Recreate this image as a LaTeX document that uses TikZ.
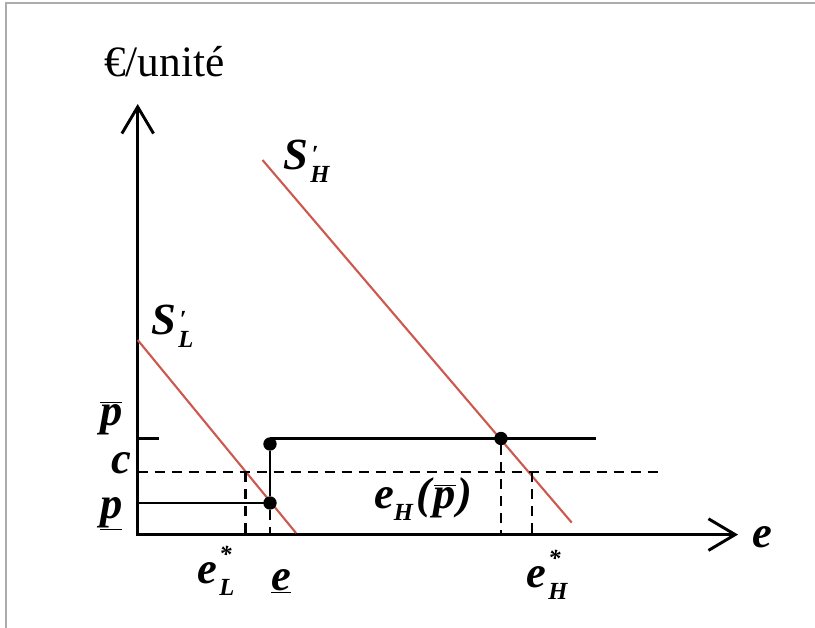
\documentclass[tikz,border=0pt]{standalone}
\usepackage{fontspec}
\setmainfont{Liberation Serif}
\usetikzlibrary{arrows.meta}

\definecolor{curvered}{RGB}{205,88,78}
\newcommand{\bi}[1]{\textbf{\textit{#1}}}
\newcommand{\subsz}{\fontsize{21}{22}\selectfont}
% letter with a small mark above and an index below
\newcommand{\supsub}[4]{\bi{#1}\kern2pt\bi{\subsz\rlap{\raisebox{#2}{#3}}\raisebox{-0.5em}{#4}}}

\begin{document}
\begin{tikzpicture}[x=0.03cm, y=-0.03cm,
  barb/.tip={Straight Barb[length=0.8cm, width=0.95cm, line width=2.5pt]},
  axisline/.style={line width=2.5pt, line join=miter},
  supply/.style={line width=1.8pt, curvered},
  thin line/.style={line width=1.7pt},
  thick line/.style={line width=2.6pt},
  guide/.style={line width=1.8pt, dash pattern=on 0.3cm off 0.21cm},
  lab/.style={font=\fontsize{38}{40}\selectfont, inner sep=0pt, anchor=base west},
  dot/.style={circle, fill=black, inner sep=0pt, minimum size=0.4cm}]
  \useasboundingbox (0,0) rectangle (815,628);
  \draw[gray!65, line width=1pt] (6,628) -- (6,3) -- (815,3);

  % axes
  \coordinate (O) at (137.7,534.6);
  \coordinate (ytop) at (137.7,104);
  \coordinate (xend) at (738,534.6);
  \draw[axisline, barb-barb] (ytop) -- (O) -- (xend);

  % supply curves
  \coordinate (SL1) at (137.7,340);
  \coordinate (SL2) at (296,533);
  \coordinate (SH1) at (262.5,160);
  \coordinate (SH2) at (571.7,522.6);
  \draw[supply] (SL1) -- (SL2);
  \draw[supply] (SH1) -- (SH2);

  % price levels
  \coordinate (pb0) at (137.7,438.5);
  \coordinate (pbt) at (158.5,438.5);
  \coordinate (pb1) at (270,438.5);
  \coordinate (pb2) at (596,438.5);
  \coordinate (c0) at (137.7,471.8);
  \coordinate (c1) at (660,471.8);
  \coordinate (pu0) at (137.7,502.6);
  \coordinate (pu1) at (270,502.6);
  \draw[thick line] (pb0) -- (pbt);
  \draw[thick line] (pb1) -- (pb2);
  \draw[guide] (c0) -- (c1);
  \draw[thin line] (pu0) -- (pu1);

  % dots
  \node[dot] (jumpT) at (270,444) {};
  \node[dot] (jumpB) at (270,503) {};
  \node[dot] (eqH) at (501,438.5) {};
  \draw[thin line] (jumpT) -- (jumpB);

  % projections on the e axis
  \coordinate (eLc) at (245.5,471.8);
  \coordinate (eLa) at (245.5,534.6);
  \coordinate (eua) at (270,534.6);
  \coordinate (eHpa) at (501,534.6);
  \coordinate (eHc) at (532,471.8);
  \coordinate (eHa) at (532,534.6);
  \draw[guide] (eLc) -- (eLa);
  \draw[guide] (jumpB) -- (eua);
  \draw[guide] (eqH) -- (eHpa);
  \draw[guide] (eHc) -- (eHa);

  % labels
  \node[lab, font=\fontsize{37}{39}\selectfont] (unit) at (104,77) {€/unité};
  \node[lab] (SHlab) at (283,170) {\supsub{S}{0.3em}{\kern1pt ′}{H}};
  \node[lab] (SLlab) at (151,335) {\supsub{S}{0.3em}{\kern1pt ′}{L}};
  \node[lab] (pbar) at (100,425) {$\overline{\hbox{\bi{p}}}$};
  \node[lab] (clab) at (111,473) {\bi{c}};
  \node[lab] (punder) at (100,518) {$\underline{\hbox{\bi{p}}}$};
  \node[lab] (eL) at (197,583) {\supsub{e}{0.85em}{*}{L}};
  \node[lab] (eunder) at (271,590) {$\underline{\hbox{\bi{e}}}$};
  \node[lab] (eH) at (526,587) {\supsub{e}{0.85em}{*}{H}};
  \node[lab] (eaxis) at (752,547) {\bi{e}};
  \node[lab] (eHp) at (374,508) {\bi{e}{\subsz\raisebox{-0.5em}{\bi{H}}}\kern2pt\bi{(}$\overline{\hbox{\bi{p}}}$\kern1pt\bi{)}};
\end{tikzpicture}
\end{document}
